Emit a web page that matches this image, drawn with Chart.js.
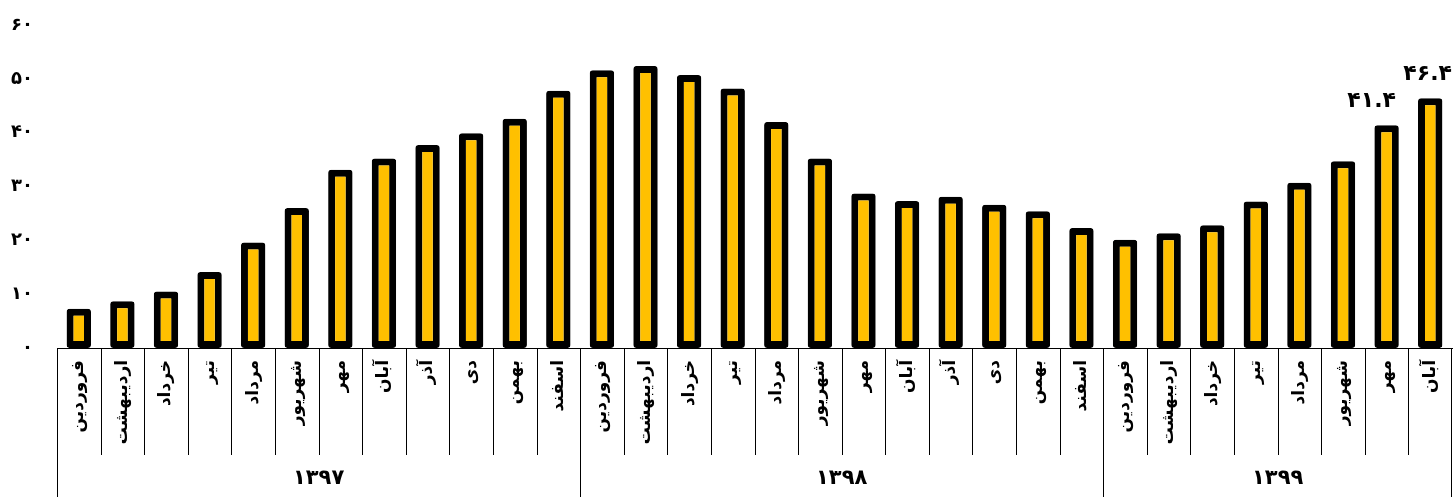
<!DOCTYPE html>
<html lang="fa">
<head>
<meta charset="utf-8">
<title>نمودار ماهانه</title>
<script src="https://cdn.jsdelivr.net/npm/chart.js@4.4.1/dist/chart.umd.min.js"></script>
<style>
    html, body { margin: 0; padding: 0; background: #fff; }
    #wrap { width: 1453px; height: 497px; position: relative; }
</style>
</head>
<body>
<div id="wrap"><canvas id="graficoMensal"></canvas></div>
<script>
// Months of each year (categories)
const mesesAno = ['فروردین', 'اردیبهشت', 'خرداد', 'تیر', 'مرداد', 'شهریور', 'مهر', 'آبان', 'آذر', 'دی', 'بهمن', 'اسفند'];
const anos = ['۱۳۹۷', '۱۳۹۸', '۱۳۹۹'];
const mesesPorAno = [12, 12, 8];

// Series values
const valores1397 = [7.3, 8.7, 10.5, 14.1, 19.6, 26.0, 33.1, 35.2, 37.7, 39.9, 42.6, 47.8];
const valores1398 = [51.6, 52.4, 50.7, 48.2, 42.0, 35.2, 28.7, 27.3, 28.1, 26.6, 25.4, 22.3];
const valores1399 = [20.1, 21.3, 22.8, 27.2, 30.7, 34.7, 41.4, 46.4];

// Bars that carry a value label
const indicesRotulados = [30, 31];

// Y axis ticks
const yMin = 0;
const yMax = 60;
const yPasso = 10;

const categorias = [];
mesesPorAno.forEach(n => { for (let i = 0; i < n; i++) categorias.push(mesesAno[i]); });
const valores = [...valores1397, ...valores1398, ...valores1399];

const FONTE = '"DejaVu Sans", sans-serif';

/**
 * @description Converts western digits to Persian digits.
 */
function paraPersa(v) {
    return String(v).replace(/[0-9]/g, d => '۰۱۲۳۴۵۶۷۸۹'[d]);
}

// Draws the separators, the year row and the value labels
const pluginMoldura = {
    id: 'moldura',
    afterDraw(chart) {
        const { ctx, chartArea } = chart;
        const x = chart.scales.x;
        const h = chart.height;
        const passo = x.getPixelForValue(1) - x.getPixelForValue(0);
        const limiteMeses = 455;

        ctx.save();
        ctx.strokeStyle = '#000';
        ctx.lineWidth = 1;

        // category separators and year borders
        let inicio = 0;
        const bordasAno = [0];
        mesesPorAno.forEach(n => { inicio += n; bordasAno.push(inicio); });
        for (let i = 0; i <= categorias.length; i++) {
            let px = Math.round(x.getPixelForValue(i) - passo / 2) + 0.5;
            if (i === categorias.length) px = Math.min(px, chart.width - 1.5);
            const ehAno = bordasAno.includes(i);
            ctx.beginPath();
            ctx.moveTo(px, chartArea.bottom);
            ctx.lineTo(px, ehAno ? h : limiteMeses);
            ctx.stroke();
        }

        // year labels
        ctx.fillStyle = '#000';
        ctx.font = 'bold 21px ' + FONTE;
        ctx.textAlign = 'center';
        ctx.textBaseline = 'middle';
        for (let a = 0; a < anos.length; a++) {
            const x0 = x.getPixelForValue(bordasAno[a]) - passo / 2;
            const x1 = x.getPixelForValue(bordasAno[a + 1]) - passo / 2;
            ctx.fillText(anos[a], (x0 + x1) / 2, 479);
        }

        // value labels (kept inside the canvas on the right)
        const meta = chart.getDatasetMeta(0);
        ctx.font = 'bold 22px ' + FONTE;
        ctx.textBaseline = 'alphabetic';
        indicesRotulados.forEach((i, k) => {
            const barra = meta.data[i];
            const texto = paraPersa(valores[i]);
            const meia = ctx.measureText(texto).width / 2;
            let cx = barra.x - (k === 0 ? 15 : 0);
            cx = Math.min(cx, chart.width - 1 - meia);
            ctx.fillText(texto, cx, barra.y - 18);
        });
        ctx.restore();
    }
};

const ctx = document.getElementById('graficoMensal').getContext('2d');
const graficoMensal = new Chart(ctx, {
    type: 'bar',
    data: {
        labels: categorias,
        datasets: [{
            data: valores,
            backgroundColor: '#FFC000',
            borderColor: '#000000',
            borderWidth: 7,
            borderRadius: 3,
            borderSkipped: false,
            barPercentage: 0.56,
            categoryPercentage: 1.0
        }]
    },
    options: {
        responsive: true,
        maintainAspectRatio: false,
        animation: false,
        layout: { padding: { top: 25, right: 1, bottom: 0, left: 0 } },
        plugins: {
            legend: { display: false },
            tooltip: { enabled: false }
        },
        scales: {
            x: {
                afterFit: scale => {
                    scale.height = 149;
                    scale.paddingLeft = 0;
                    scale.paddingRight = 0;
                },
                grid: { display: false, drawTicks: false },
                border: { display: true, color: '#000', width: 1 },
                ticks: {
                    autoSkip: false,
                    minRotation: 90,
                    maxRotation: 90,
                    padding: 12,
                    color: '#000',
                    font: { family: FONTE, size: 17, weight: 'bold' }
                }
            },
            y: {
                min: yMin,
                max: yMax,
                afterFit: scale => {
                    scale.width = 57;
                    scale.paddingTop = 0;
                    scale.paddingBottom = 0;
                },
                grid: { display: false, drawTicks: false },
                border: { display: false },
                ticks: {
                    stepSize: yPasso,
                    padding: 24,
                    color: '#000',
                    font: { family: FONTE, size: 18, weight: 'bold' },
                    callback: v => paraPersa(v)
                }
            }
        }
    },
    plugins: [pluginMoldura]
});
</script>
</body>
</html>
